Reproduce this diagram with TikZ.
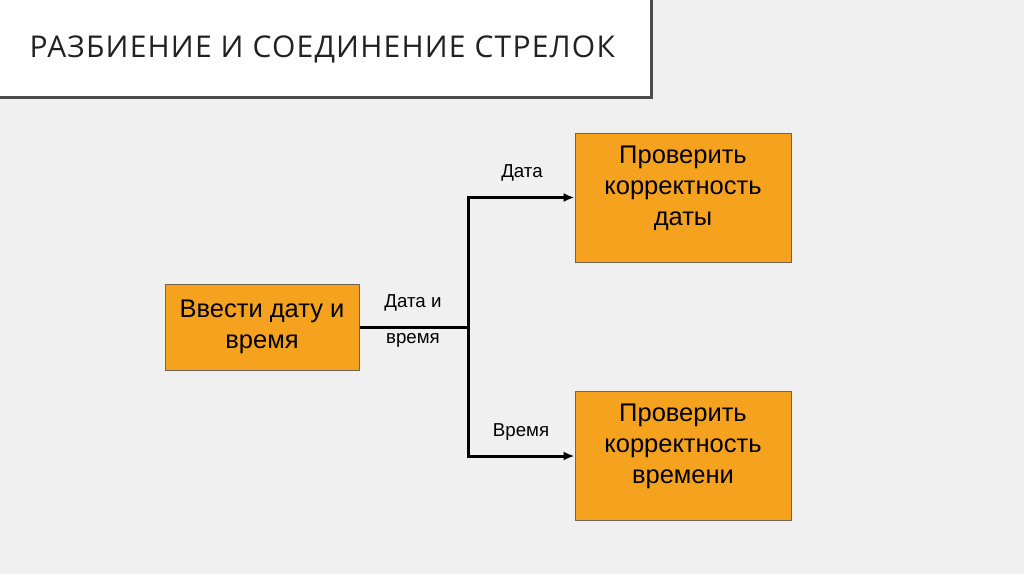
\documentclass[tikz,border=0pt]{standalone}
\usepackage{fontspec}
\setmainfont{Liberation Sans}
\newfontfamily\titlefont[LetterSpace=4]{Open Sans}
\usetikzlibrary{arrows.meta}
\definecolor{pagegray}{HTML}{F0F0F0}
\definecolor{boxorange}{HTML}{F5A31F}
\definecolor{boxedge}{HTML}{6E6552}
\definecolor{titleink}{HTML}{222222}
\begin{document}
\begin{tikzpicture}[x=1pt,y=-1pt,procbox/.style={rectangle,draw=boxedge,line width=1pt,fill=boxorange,minimum width=194pt,minimum height=86pt,align=center,font=\fontsize{25.5}{31}\selectfont}]
		\tikzstyle{checkbox}=[procbox,minimum width=216pt,minimum height=129pt,text depth=24pt]
		\tikzstyle{flow}=[draw,line width=3pt]
		\tikzstyle{arrow}=[flow,-{Latex[length=11pt,width=9pt]}]
		\tikzstyle{lbl}=[align=center,font=\fontsize{18.7}{36}\selectfont]
		\useasboundingbox (0,0) rectangle (1024,574);
		\fill[pagegray] (0,0) rectangle (1024,574);
		% title
		\draw[fill=white,draw=black!70,line width=3pt] (-5,-5) rectangle (651,97);
		\node[anchor=west,text=titleink,font=\titlefont\fontsize{30}{36}\selectfont] (title) at (26,49) {РАЗБИЕНИЕ И СОЕДИНЕНИЕ СТРЕЛОК};
		% boxes
		\node[procbox] (inp) at (262,327) {Ввести дату и\\время};
		\node[checkbox] (chkd) at (683,197.5) {Проверить\\корректность\\даты};
		\node[checkbox] (chkt) at (683,456) {Проверить\\корректность\\времени};
		\coordinate (split) at (468,327);
		\path[flow] (inp.east) -- (split);
		\path[arrow] (split) |- (chkd.west);
		\path[arrow] (split) |- (chkt.west);
		\node[lbl] (lio) at (413,321) {Дата и\\время};
		\node[lbl] (ld) at (522,173) {Дата};
		\node[lbl] (lt) at (521,432) {Время};
\end{tikzpicture}
\end{document}
